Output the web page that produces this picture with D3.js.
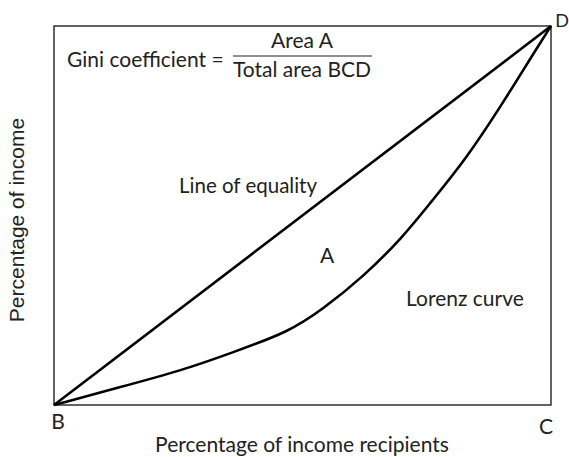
<!DOCTYPE html>
<html lang="en">
<head>
<meta charset="UTF-8">
<title>Lorenz curve</title>
<script src="https://d3js.org/d3.v7.min.js"></script>
<style>
    body { margin: 0; background: #fff; }
    text { font-family: Lato, "Open Sans", sans-serif; fill: #222; font-size: 21px; }
    .ylab { font-family: "Liberation Sans", Arial, sans-serif; }
</style>
</head>
<body>
<svg class="chart"></svg>
<script>
    const W = 569, H = 457;

    // values (% of recipients, % of income)
    const equalityX = [0, 100];
    const equalityY = [0, 100];
    const lorenzX = [0, 12.7, 26.0, 36.0, 47.3, 54.1, 62.2, 70.2, 75.7, 83.1, 91.1, 96.4, 100];
    const lorenzY = [0, 4.5, 9.2, 13.9, 19.3, 25.3, 33.8, 44.3, 53.3, 65.2, 81.3, 92.6, 100];
    const cornerLabels = ["B", "C", "D"];

    const svg = d3.select(".chart").attr("width", W).attr("height", H);

    const x = d3.scaleLinear().domain([0, 100]).range([54, 551]);
    const y = d3.scaleLinear().domain([0, 100]).range([405, 26]);

    // frame
    svg.append("rect")
        .attr("x", x(0)).attr("y", y(100))
        .attr("width", x(100) - x(0)).attr("height", y(0) - y(100))
        .attr("fill", "none").attr("stroke", "#222").attr("stroke-width", 1.4);

    const line = d3.line().x(d => x(d[0])).y(d => y(d[1]));

    svg.append("path")
        .datum(d3.zip(equalityX, equalityY))
        .attr("d", line)
        .attr("fill", "none").attr("stroke", "#000").attr("stroke-width", 2.6);

    svg.append("path")
        .datum(d3.zip(lorenzX, lorenzY))
        .attr("d", line.curve(d3.curveBasis))
        .attr("fill", "none").attr("stroke", "#000").attr("stroke-width", 2.6);

    // corner letters
    const corners = [[58, 429], [546, 434], [562, 27]];
    svg.selectAll(".corner")
        .data(cornerLabels)
        .join("text")
        .attr("class", "corner")
        .attr("x", (d, i) => corners[i][0])
        .attr("y", (d, i) => corners[i][1])
        .attr("text-anchor", "middle")
        .style("font-size", (d, i) => i === 2 ? "18px" : null)
        .text(d => d);

    // labels inside plot
    svg.append("text").attr("x", 67).attr("y", 67).text("Gini coefficient =");
    svg.append("line").attr("x1", 233).attr("x2", 372).attr("y1", 56).attr("y2", 56)
        .attr("stroke", "#222").attr("stroke-width", 1.2);
    svg.append("text").attr("x", 302).attr("y", 48).attr("text-anchor", "middle").text("Area A");
    svg.append("text").attr("x", 302).attr("y", 77).attr("text-anchor", "middle").text("Total area BCD");

    svg.append("text").attr("x", 179).attr("y", 193).style("font-size", "20.5px").text("Line of equality");
    svg.append("text").attr("x", 327).attr("y", 263).attr("text-anchor", "middle").text("A");
    svg.append("text").attr("x", 406).attr("y", 306).text("Lorenz curve");

    // axis titles
    svg.append("text").attr("x", 302).attr("y", 452).attr("text-anchor", "middle")
        .text("Percentage of income recipients");
    svg.append("text")
        .attr("class", "ylab")
        .attr("transform", "translate(24,220) rotate(-90)")
        .attr("text-anchor", "middle")
        .text("Percentage of income");
</script>
</body>
</html>
